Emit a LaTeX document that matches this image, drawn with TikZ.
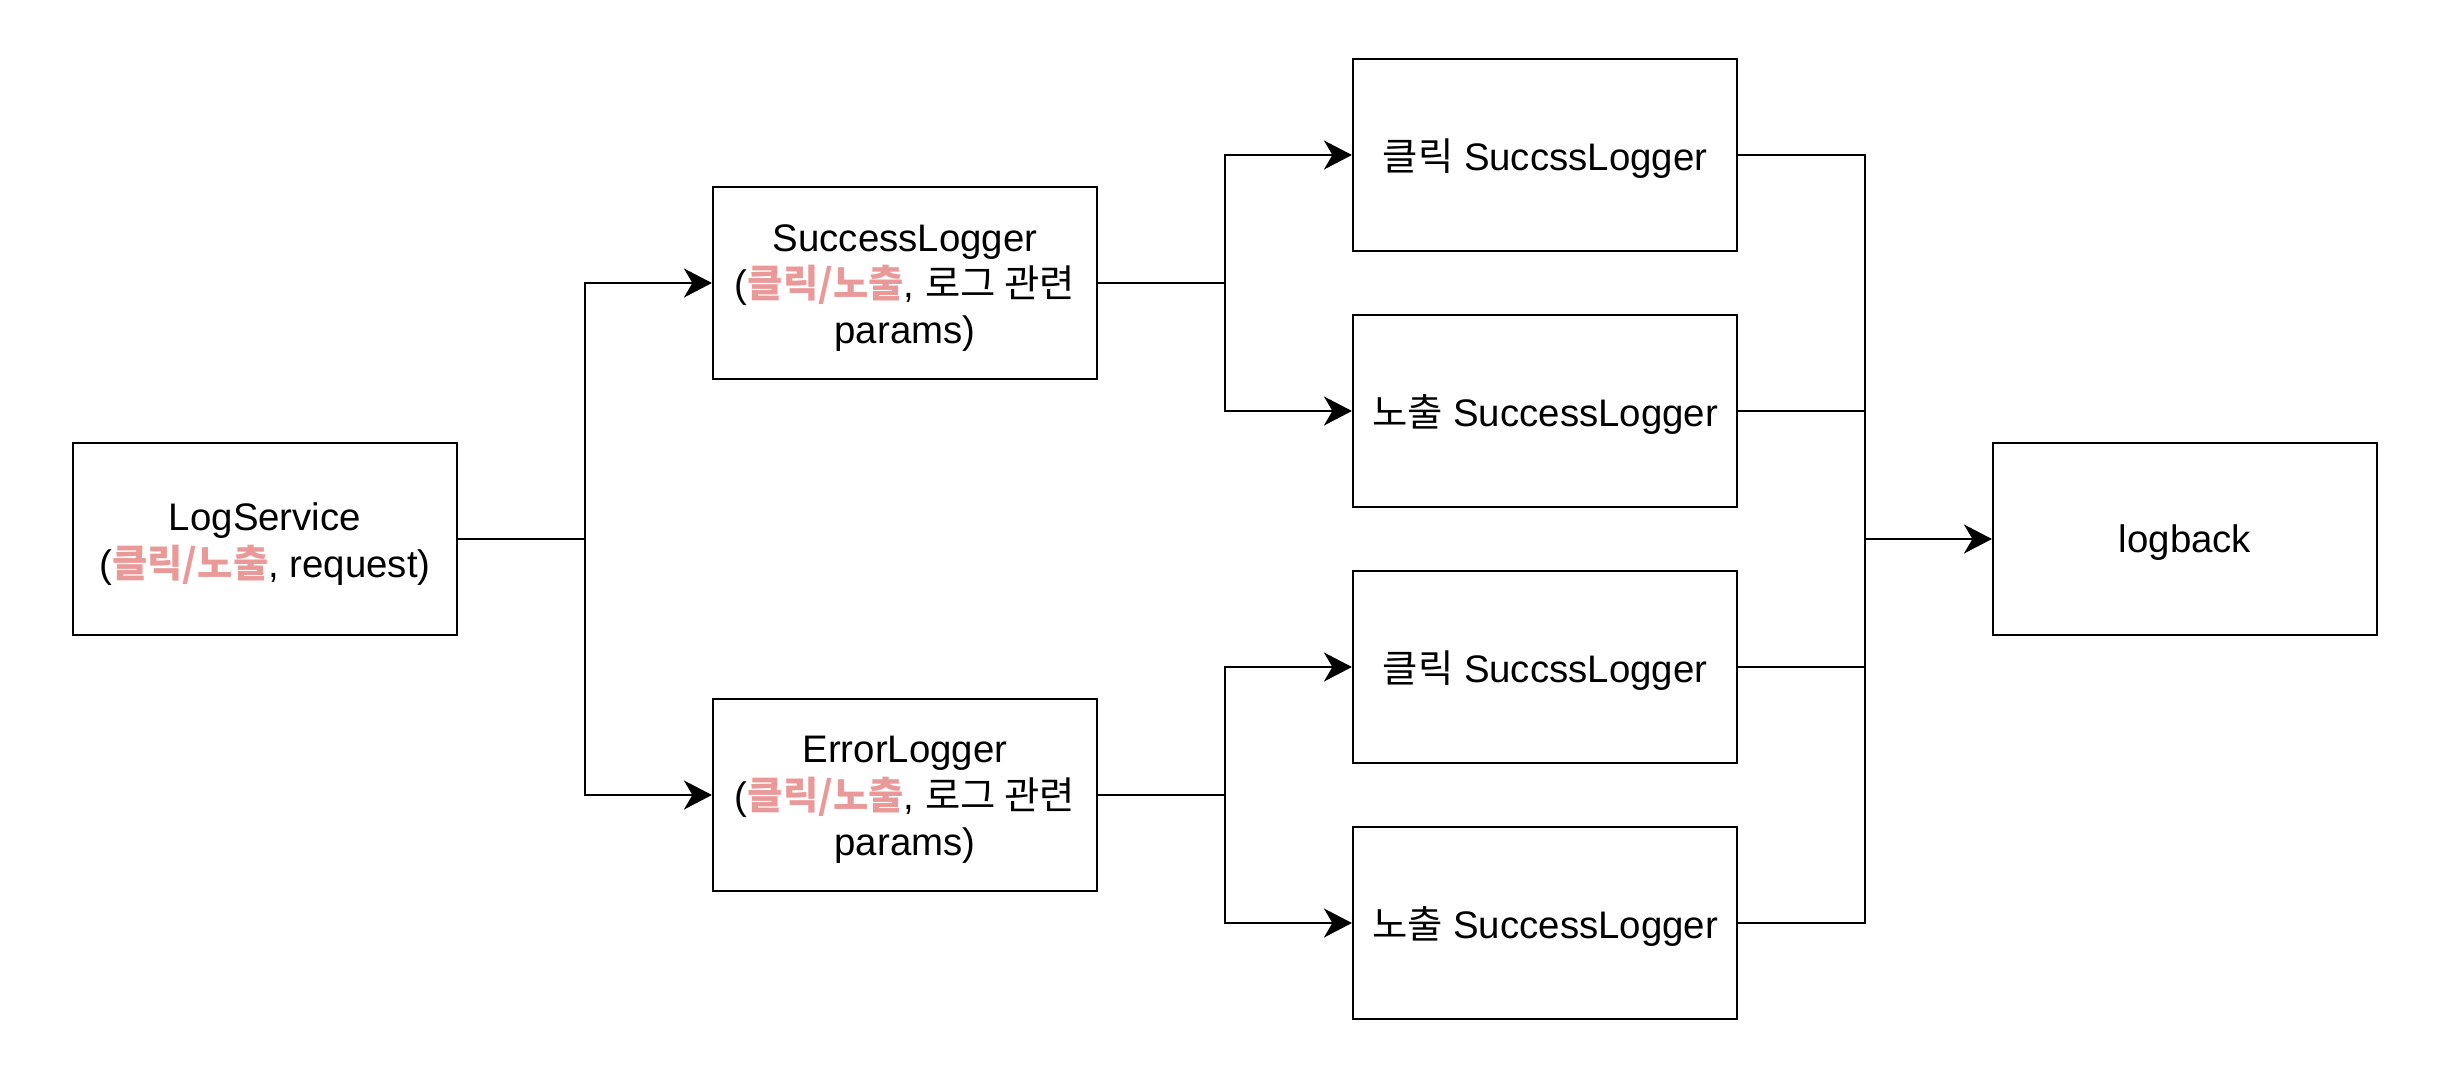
\documentclass[tikz,border=0pt]{standalone}
\usepackage{fontspec}
\setmainfont{Liberation Sans}
\newfontfamily\kr{Noto Sans CJK KR}
\usetikzlibrary{arrows.meta}
\definecolor{pinkt}{RGB}{234,153,153}
\newcommand{\K}[1]{{\kr #1}}
\newcommand{\PK}[1]{{\kr\bfseries\color{pinkt}#1}}
\begin{document}
\begin{tikzpicture}[x=0.02cm,y=-0.02cm,
  box/.style={draw=black,line width=1.25pt,minimum width=7.68cm,minimum height=3.84cm,inner sep=0pt},
  txt/.style={align=center,inner sep=0pt,font=\fontsize{21.85}{26.4}\selectfont},
  conn/.style={line width=1.35pt},
  arr/.style={conn,-{Stealth[length=0.56cm,width=0.58cm,inset=0.17cm]}}]
\useasboundingbox (0,0) rectangle (2448,1068);
\node[box] (LS) at (265,539) {};
\node[box] (SL) at (905,283) {};
\node[box] (EL) at (905,795) {};
\node[box] (C1) at (1545,155) {};
\node[box] (N1) at (1545,411) {};
\node[box] (C2) at (1545,667) {};
\node[box] (N2) at (1545,923) {};
\node[box] (LB) at (2185,539) {};
\node[txt] (LSt) at ([yshift=-0.1cm]LS.center) {LogService\\(\PK{클릭/노출}, request)};
\node[txt] (SLt) at ([yshift=-0.1cm]SL.center) {SuccessLogger\\(\PK{클릭/노출}, \K{로그 관련}\\params)};
\node[txt] (ELt) at ([yshift=-0.1cm]EL.center) {ErrorLogger\\(\PK{클릭/노출}, \K{로그 관련}\\params)};
\node[txt] (C1t) at ([yshift=-0.08cm]C1.center) {\K{클릭} SuccssLogger};
\node[txt] (N1t) at ([yshift=-0.08cm]N1.center) {\K{노출} SuccessLogger};
\node[txt] (C2t) at ([yshift=-0.08cm]C2.center) {\K{클릭} SuccssLogger};
\node[txt] (N2t) at ([yshift=-0.08cm]N2.center) {\K{노출} SuccessLogger};
\node[txt] (LBt) at ([yshift=-0.08cm]LB.center) {logback};
\coordinate (b1) at (585,539);
\coordinate (b2) at (1225,283);
\coordinate (b3) at (1225,795);
\coordinate (m) at (1865,539);
\draw[conn] (LS.east) -- (b1);
\draw[arr] (b1) |- (SL.west);
\draw[arr] (b1) |- (EL.west);
\draw[conn] (SL.east) -- (b2);
\draw[arr] (b2) |- (C1.west);
\draw[arr] (b2) |- (N1.west);
\draw[conn] (EL.east) -- (b3);
\draw[arr] (b3) |- (C2.west);
\draw[arr] (b3) |- (N2.west);
\draw[conn] (C1.east) -| (m);
\draw[conn] (N1.east) -| (m);
\draw[conn] (C2.east) -| (m);
\draw[conn] (N2.east) -| (m);
\draw[arr] (m) -- (LB.west);
\end{tikzpicture}
\end{document}
